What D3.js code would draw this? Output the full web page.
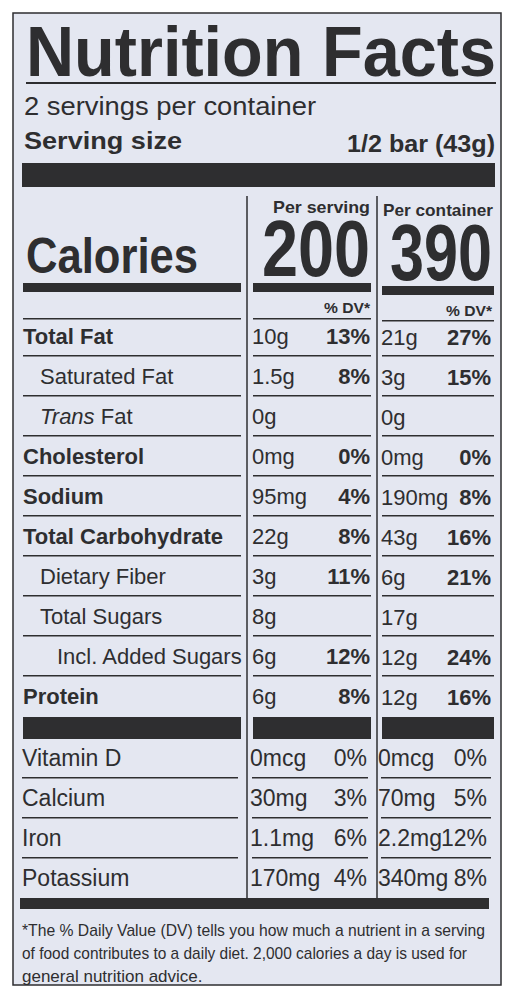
<!DOCTYPE html><html><head><meta charset="utf-8">
<script src="https://cdn.jsdelivr.net/npm/d3@7"></script>
<style>body{margin:0;background:#fff}text{font-family:"Liberation Sans",Arial,sans-serif;fill:#2e2e30}</style></head><body>
<svg id="c" width="515" height="999"></svg>
<script>
const nutrients=["Total Fat","Saturated Fat","Trans Fat","Cholesterol","Sodium","Total Carbohydrate","Dietary Fiber","Total Sugars","Incl. Added Sugars","Protein"];
const indent=[0,1,1,0,0,0,1,1,2,0];
const boldName=[1,0,0,1,1,1,0,0,0,1];
const perServing=["10g","1.5g","0g","0mg","95mg","22g","3g","8g","6g","6g"];
const perServingDV=["13%","8%","","0%","4%","8%","11%","","12%","8%"];
const perContainer=["21g","3g","0g","0mg","190mg","43g","6g","17g","12g","12g"];
const perContainerDV=["27%","15%","","0%","8%","16%","21%","","24%","16%"];
const vitamins=["Vitamin D","Calcium","Iron","Potassium"];
const vitServing=["0mcg","30mg","1.1mg","170mg"];
const vitServingDV=["0%","3%","6%","4%"];
const vitContainer=["0mcg","70mg","2.2mg","340mg"];
const vitContainerDV=["0%","5%","12%","8%"];
const calories=[200,390];
const footnote=["*The % Daily Value (DV) tells you how much a nutrient in a serving","of food contributes to a daily diet. 2,000 calories a day is used for","general nutrition advice."];

const svg=d3.select("#c");const ink="#2e2e30";
svg.append("rect").attr("x",13).attr("y",13).attr("width",488).attr("height",972).attr("fill","#e4e7f1").attr("stroke",ink).attr("stroke-width",1.5);
function T(x,y,s,size,opt={}){const t=svg.append("text").attr("x",x).attr("y",y).attr("font-size",size).text(s);
 if(opt.b)t.attr("font-weight","bold");if(opt.a)t.attr("text-anchor",opt.a);if(opt.w)t.attr("textLength",opt.w).attr("lengthAdjust","spacingAndGlyphs");return t;}
function R(x1,x2,y,h){svg.append("rect").attr("x",x1).attr("y",y).attr("width",x2-x1).attr("height",h).attr("fill",ink);}
const segs=[[23,241],[253,371],[382,494]];
T(26,76,"Nutrition Facts",70,{b:1,w:470});
R(26,496,82,2);
T(24,115,"2 servings per container",25,{w:292});
T(24,149,"Serving size",24,{b:1,w:158});
T(495,152,"1/2 bar (43g)",24,{b:1,a:"end",w:148});
R(22,495,163,24);
svg.append("line").attr("x1",247).attr("x2",247).attr("y1",196).attr("y2",898).attr("stroke",ink).attr("stroke-width",1.5);
svg.append("line").attr("x1",377).attr("x2",377).attr("y1",196).attr("y2",898).attr("stroke",ink).attr("stroke-width",1.5);
T(370,213,"Per serving",17,{b:1,a:"end",w:97});
T(493,216,"Per container",17,{b:1,a:"end",w:110});
T(26,273,"Calories",50,{b:1,w:172});
T(370,276,calories[0],80,{b:1,a:"end",w:108});
T(492,280,calories[1],80,{b:1,a:"end",w:102});
segs.forEach((s,k)=>R(s[0],s[1],283+(k==2?3:0),9));
T(370,313,"% DV*",15,{b:1,a:"end",w:46});T(492,316,"% DV*",15,{b:1,a:"end",w:46});
segs.forEach((s,k)=>R(s[0],s[1],318+(k==2?2:0),1.5));
const y=d3.scaleLinear().domain([0,1]).range([335,375]);
nutrients.forEach((n,i)=>{const c=y(i),b=c+9;const x=23+indent[i]*17;
 if(n=="Trans Fat"){const t=T(x,b,"",22);t.append("tspan").attr("font-style","italic").text("Trans");t.append("tspan").text(" Fat");}
 else T(x,b,n,22,{b:boldName[i]});
 T(252,b,perServing[i],22);T(370,b,perServingDV[i],22,{b:1,a:"end"});
 T(381,b+1,perContainer[i],22);T(491,b+1,perContainerDV[i],22,{b:1,a:"end"});
 if(i<nutrients.length-1)segs.forEach(s=>R(s[0],s[1],c+20,1.5));});
segs.forEach(s=>R(s[0],s[1],717,22));
const yv=d3.scaleLinear().domain([0,1]).range([757,797]);
vitamins.forEach((n,i)=>{const c=yv(i),b=c+9;
 T(22,b,n,23);T(250,b,vitServing[i],23);T(367,b,vitServingDV[i],23,{a:"end"});
 T(378,b,vitContainer[i],23);T(487,b,vitContainerDV[i],23,{a:"end"});
 if(i<vitamins.length-1)segs.forEach(s=>R(s[0]-1,s[1]-3,c+20,1.5));});
R(20,489,898,11);
footnote.forEach((f,i)=>{const t=T(22,936+i*23,f,17);if(i<2)t.attr("textLength",i==0?463:445).attr("lengthAdjust","spacingAndGlyphs");});
</script></body></html>
